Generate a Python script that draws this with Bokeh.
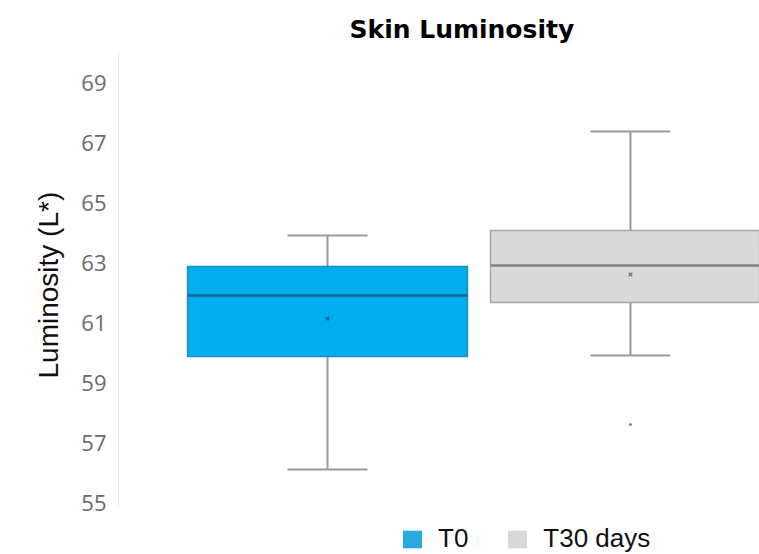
from bokeh.plotting import figure
from bokeh.models import Legend, LegendItem, FixedTicker, Range1d, Title
from bokeh.embed import file_html
from bokeh.resources import INLINE

categories = ["T0", "T30 days"]
q1 = [59.87, 61.67]
median = [61.90, 62.90]
q3 = [62.87, 64.07]
lower = [56.10, 59.90]
upper = [63.90, 67.37]
mean = [61.13, 62.60]
outlier_cat = ["T30 days"]
outlier_val = [57.60]
fill_colors = ["#00AEEF", "#D9D9D9"]
legend_colors = ["#29ABE2", "#D9D9D9"]
median_colors = ["#14648C", "#808080"]
y_ticks = [55, 57, 59, 61, 63, 65, 67, 69]

pos = {c: i + 1 for i, c in enumerate(categories)}
xs = [pos[c] for c in categories]

p = figure(width=759, height=554, output_backend="svg", toolbar_location=None,
           x_range=Range1d(0.31, 2.426), y_range=Range1d(53.267, 70.0),
           min_border_left=118, min_border_right=0, min_border_top=52, min_border_bottom=0)
p.outline_line_color = None
p.xgrid.visible = False
p.ygrid.visible = False
p.xaxis.visible = False

bw = 0.924
cw = 0.264
# whiskers
p.segment(x0=xs, y0=upper, x1=xs, y1=q3, line_color="#9a9a9a", line_width=2)
p.segment(x0=xs, y0=lower, x1=xs, y1=q1, line_color="#9a9a9a", line_width=2)
p.segment(x0=[x - cw / 2 for x in xs], y0=upper, x1=[x + cw / 2 for x in xs], y1=upper,
          line_color="#9a9a9a", line_width=2)
p.segment(x0=[x - cw / 2 for x in xs], y0=lower, x1=[x + cw / 2 for x in xs], y1=lower,
          line_color="#9a9a9a", line_width=2)
# boxes
p.vbar(x=xs, width=bw, bottom=q1, top=q3, fill_color=fill_colors,
       line_color=["#1E8DBF", "#A8A8A8"], line_width=1.5)
p.segment(x0=[x - bw / 2 for x in xs], y0=median, x1=[x + bw / 2 for x in xs], y1=median,
          line_color=median_colors, line_width=2.5)
p.scatter(x=xs, y=mean, marker="x", size=5, line_color=["#1a4f6e", "#707070"], line_width=1.2)
p.scatter(x=[pos[c] for c in outlier_cat], y=outlier_val, marker="circle", size=3,
          fill_color="#8a8a8a", line_color=None)

p.yaxis.ticker = FixedTicker(ticks=y_ticks)
p.yaxis.bounds = (54.9, 70.0)
p.yaxis.major_tick_line_color = None
p.yaxis.minor_tick_line_color = None
p.yaxis.axis_line_color = "#e6e6e6"
p.yaxis.major_label_text_font = "Open Sans"
p.yaxis.major_label_text_font_size = "22px"
p.yaxis.major_label_text_color = "#6b6b6b"
p.yaxis.major_label_standoff = 6

ylab = Title(text="Luminosity (L*)", align="left", offset=176, standoff=30,
             text_font="Liberation Sans", text_font_style="normal",
             text_font_size="28px", text_color="#111111")
p.add_layout(ylab, "left")

p.title.text = "Skin Luminosity"
p.title.text_font = "DejaVu Sans"
p.title.text_font_style = "bold"
p.title.text_font_size = "25px"
p.title.text_color = "#000000"
p.title.align = "left"
p.title.offset = 231
p.title.standoff = 17

r1 = p.rect(x=[1], y=[60], width=0, height=0, fill_color=legend_colors[0], line_color=None)
r2 = p.rect(x=[1], y=[60], width=0, height=0, fill_color=legend_colors[1], line_color=None)
legend = Legend(items=[LegendItem(label=categories[0], renderers=[r1]),
                       LegendItem(label=categories[1], renderers=[r2])],
                orientation="horizontal", location=(282, 0),
                glyph_width=24, glyph_height=22, label_text_font="Liberation Sans",
                label_text_font_size="26px", label_text_color="#111111",
                padding=0, margin=0, spacing=37, label_standoff=14,
                background_fill_alpha=0, border_line_color=None)
p.add_layout(legend, "center")

open("out.html", "w").write(file_html(p, INLINE))
